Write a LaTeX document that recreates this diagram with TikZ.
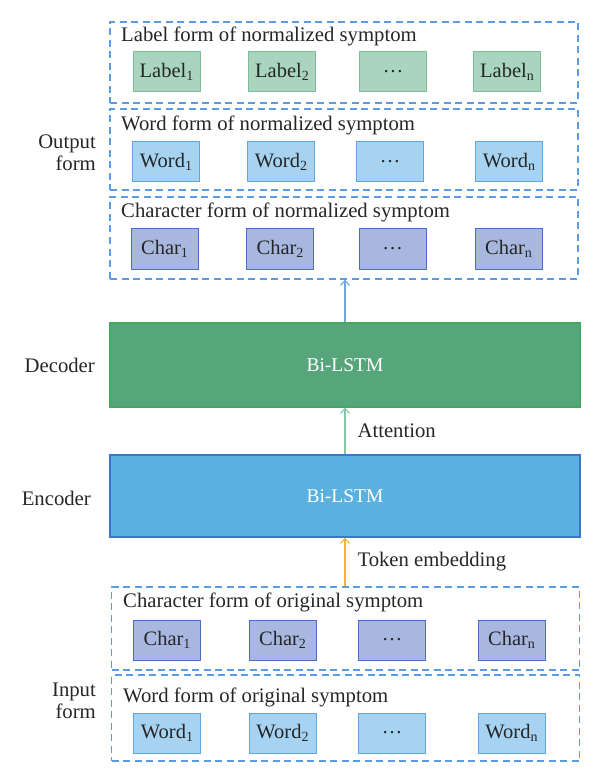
\documentclass[tikz,border=0pt]{standalone}
\usepackage{fontspec}
\setmainfont{Liberation Serif}
\usetikzlibrary{arrows.meta}
\definecolor{dashc}{HTML}{5B9BE0}
\definecolor{labfill}{HTML}{A9D4BD}
\definecolor{labdraw}{HTML}{7DBE98}
\definecolor{wordfill}{HTML}{A5D3F1}
\definecolor{worddraw}{HTML}{5FA6DE}
\definecolor{charfill}{HTML}{A7B7E0}
\definecolor{chardraw}{HTML}{4F6DBF}
\definecolor{decfill}{HTML}{56A57B}
\definecolor{decdraw}{HTML}{45A860}
\definecolor{encfill}{HTML}{59B1E0}
\definecolor{encdraw}{HTML}{3878C8}
\definecolor{arrblue}{HTML}{6FA8E0}
\definecolor{arrgreen}{HTML}{82C8A0}
\definecolor{arrorange}{HTML}{F2B632}
\newcommand{\sbs}[1]{\raisebox{-0.3ex}{\fontsize{14}{14}\selectfont #1}}
\tikzset{
  txt/.style={font=\fontsize{20.7}{22}\selectfont, inner sep=0pt, text=black!85},
  dbox/.style={draw=dashc, line width=1.2pt, dash pattern=on 7pt off 4.5pt, minimum width=468pt, inner sep=0pt},
  item/.style={font=\fontsize{20.5}{22}\selectfont, text=black!85, minimum width=67pt, minimum height=40pt, inner sep=0pt, line width=1pt},
  labbox/.style={item, fill=labfill, draw=labdraw},
  wordbox/.style={item, fill=wordfill, draw=worddraw},
  charbox/.style={item, fill=charfill, draw=chardraw},
  bigbox/.style={minimum width=470pt, line width=1.2pt, inner sep=0pt, text=white, font=\fontsize{19.5}{22}\selectfont},
  arr/.style={-{Straight Barb[length=5pt,width=9pt]}, line width=1.1pt},
  side/.style={txt, align=right, anchor=east, font=\fontsize{20.7}{22.5}\selectfont}
}
\begin{document}
\begin{tikzpicture}[x=1pt,y=-1pt]
\useasboundingbox (0,0) rectangle (600,783);
% Output form
\node[dbox, minimum height=81pt] (o1) at (344,62.5) {};
\node[txt, anchor=base west] (t1) at (121,42) {Label form of normalized symptom};
\node[labbox] (l1) at (166.5,72) {Label\sbs{1}};
\node[labbox] (l2) at (282,72) {Label\sbs{2}};
\node[labbox] (l3) at (393,72) {\dots};
\node[labbox] (l4) at (507,72) {Label\sbs{n}};

\node[dbox, minimum height=81pt] (o2) at (344,149.5) {};
\node[txt, anchor=base west] (t2) at (121,131) {Word form of normalized symptom};
\node[wordbox] (w1) at (166,162) {Word\sbs{1}};
\node[wordbox] (w2) at (281,162) {Word\sbs{2}};
\node[wordbox] (w3) at (390,162) {\dots};
\node[wordbox] (w4) at (509,162) {Word\sbs{n}};

\node[dbox, minimum height=82pt] (o3) at (344,238) {};
\node[txt, anchor=base west] (t3) at (121,218) {Character form of normalized symptom};
\node[charbox] (c1) at (164.5,249) {Char\sbs{1}};
\node[charbox] (c2) at (280,249) {Char\sbs{2}};
\node[charbox] (c3) at (392.5,249) {\dots};
\node[charbox] (c4) at (508.5,249) {Char\sbs{n}};

\node[side] (out) at (96,153) {Output\\form};

% Decoder / Encoder
\node[bigbox, minimum height=84pt, fill=decfill, draw=decdraw] (dec) at (345,365) {Bi-LSTM};
\node[bigbox, minimum height=82pt, fill=encfill, draw=encdraw] (enc) at (345,496) {Bi-LSTM};
\node[side] (decl) at (95,365) {Decoder};
\node[side] (encl) at (91,498) {Encoder};

% Input form
\node[dbox, minimum height=83pt] (i1) at (345.5,628.5) {};
\node[txt, anchor=base west] (t4) at (123,607) {Character form of original symptom};
\node[charbox] (ic1) at (167,640) {Char\sbs{1}};
\node[charbox] (ic2) at (282.5,640) {Char\sbs{2}};
\node[charbox] (ic3) at (392,640) {\dots};
\node[charbox] (ic4) at (511.5,640) {Char\sbs{n}};

\node[dbox, minimum height=86pt] (i2) at (345.5,718) {};
\node[txt, anchor=base west] (t5) at (123,702) {Word form of original symptom};
\node[wordbox] (iw1) at (167,733) {Word\sbs{1}};
\node[wordbox] (iw2) at (282.5,733) {Word\sbs{2}};
\node[wordbox] (iw3) at (392,733) {\dots};
\node[wordbox] (iw4) at (511.5,733) {Word\sbs{n}};

\node[side] (inl) at (96,701) {Input\\form};

% Arrows
\draw[arr, arrblue] (dec.north) -- (dec.north |- o3.south);
\draw[arr, arrgreen] (enc.north) -- (dec.south) node[midway, txt, anchor=west, xshift=12pt] (att) {Attention};
\draw[arr, arrorange] (i1.north -| enc.south) -- (enc.south) node[midway, txt, anchor=west, xshift=12pt] (tok) {Token embedding};
\end{tikzpicture}
\end{document}
